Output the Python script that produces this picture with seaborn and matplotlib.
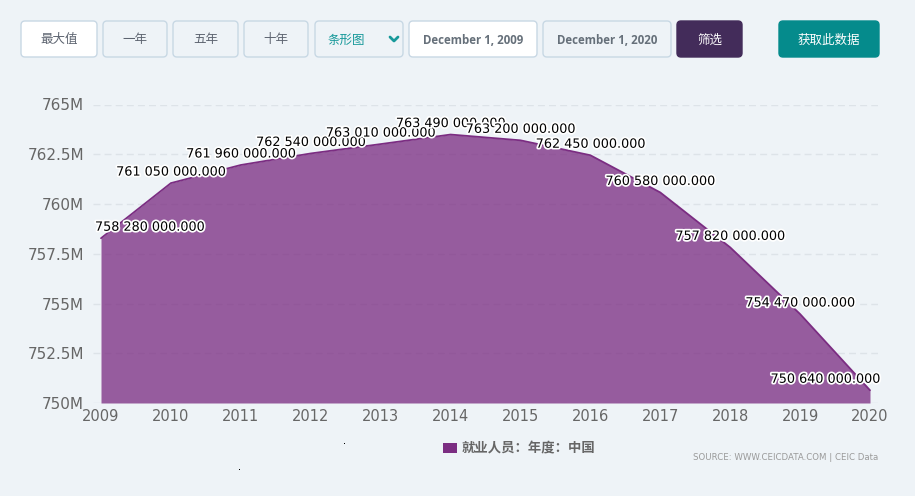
import matplotlib
matplotlib.use("Agg")
import matplotlib.pyplot as plt
import matplotlib.patheffects as pe
from matplotlib.patches import FancyBboxPatch, Rectangle
from matplotlib.ticker import FuncFormatter
import pandas as pd
import seaborn as sns

# 就业人员：年度：中国 (persons)
years = [2009, 2010, 2011, 2012, 2013, 2014, 2015, 2016, 2017, 2018, 2019, 2020]
employed = [758280000, 761050000, 761960000, 762540000, 763010000, 763490000,
            763200000, 762450000, 760580000, 757820000, 754470000, 750640000]
y_ticks = [750e6, 752.5e6, 755e6, 757.5e6, 760e6, 762.5e6, 765e6]
series_name = "就业人员：年度：中国"
buttons = ["最大值", "一年", "五年", "十年"]
chart_type = "条形图"
date_from = "December 1, 2009"
date_to = "December 1, 2020"
filter_label = "筛选"
get_data_label = "获取此数据"
source_text = "SOURCE: WWW.CEICDATA.COM | CEIC Data"

df = pd.DataFrame({"year": years, "value": employed})

BG = "#eef3f7"
PURPLE = "#7b2d82"
GREY = "#666666"

sns.set_theme(style="white")
plt.rcParams["font.family"] = ["DejaVu Sans", "Noto Sans CJK SC"]

W, H = 915, 496
fig = plt.figure(figsize=(W / 100, H / 100), dpi=100, facecolor=BG)

# main plot area (pixel box -> figure fraction)
left, right, top, bottom = 93, 878, 104.5, 403
ax = fig.add_axes([left / W, 1 - bottom / H, (right - left) / W, (bottom - top) / H])
ax.set_facecolor(BG)

px_per_year = (870 - 101) / 11
ax.set_xlim(2009 - (101 - left) / px_per_year, 2020 + (right - 870) / px_per_year)
ax.set_ylim(750e6, 765e6)

for yt in y_ticks:
    ax.axhline(yt, color="#dde3e8", lw=1, ls=(0, (5, 3)), zorder=0)

ax.fill_between(df["year"], df["value"], 750e6, color=PURPLE, alpha=0.76,
                lw=0, zorder=1)
sns.lineplot(data=df, x="year", y="value", ax=ax, color=PURPLE, lw=1.3,
             zorder=2, legend=False)

for i, (yr, v) in enumerate(zip(df["year"], df["value"])):
    txt = f"{v:,.3f}".replace(",", " ")
    if i == 0:
        ha, dx = "left", -6
    elif i == len(df) - 1:
        ha, dx = "right", 10
    else:
        ha, dx = "center", 0
    ax.annotate(txt, (yr, v), xytext=(dx, 11), textcoords="offset pixels",
                ha=ha, va="center", fontsize=9.2, color="black", zorder=5,
                path_effects=[pe.withStroke(linewidth=2.5, foreground="white")])

ax.set_xticks(years)
ax.set_yticks(y_ticks)
ax.yaxis.set_major_formatter(FuncFormatter(lambda v, p: f"{v / 1e6:g}M"))
ax.tick_params(axis="x", length=0, pad=4, labelsize=10.5, labelcolor=GREY)
ax.tick_params(axis="y", length=0, pad=6.5, labelsize=11, labelcolor=GREY)
ax.set_xlabel("")
ax.set_ylabel("")
for s in ax.spines.values():
    s.set_visible(False)

# overlay in pixel coordinates for the toolbar, legend and source
ov = fig.add_axes([0, 0, 1, 1], facecolor="none")
ov.set_xlim(0, W)
ov.set_ylim(H, 0)
ov.axis("off")

cjk = ["Noto Sans CJK SC", "DejaVu Sans"]


def button(x0, x1, face, edge, label, color, family=cjk, size=9, weight="normal"):
    ov.add_patch(FancyBboxPatch((x0, 21), x1 - x0, 36,
                                boxstyle="round,pad=0,rounding_size=4",
                                fc=face, ec=edge, lw=1))
    ov.text((x0 + x1) / 2, 40, label, ha="center", va="center", fontsize=size,
            color=color, family=family, weight=weight)


btn_x = [(21, 97), (103, 167), (173, 238), (244, 308)]
for (x0, x1), lab in zip(btn_x, buttons):
    button(x0, x1, "white" if lab == buttons[0] else BG, "#c8d8e4", lab, "#5d6470")

ov.add_patch(FancyBboxPatch((315, 21), 88, 36, boxstyle="round,pad=0,rounding_size=4",
                            fc=BG, ec="#c8d8e4", lw=1))
ov.text(328, 40, chart_type, ha="left", va="center", fontsize=9, color="#17999a",
        family=cjk)
ov.plot([390, 394, 398], [37, 41, 37], color="#17999a", lw=2, solid_capstyle="round")

button(409, 537, "white", "#c8d8e4", date_from, "#66707a", family=["Open Sans"],
       size=8.3, weight="bold")
button(543, 671, BG, "#c8d8e4", date_to, "#66707a", family=["Open Sans"],
       size=8.3, weight="bold")
button(677, 742, "#432c5a", "#432c5a", filter_label, "white")
button(779, 879, "#058b8c", "#058b8c", get_data_label, "white")

# legend
ov.add_patch(Rectangle((443, 443), 14, 10, fc=PURPLE, ec="none"))
ov.text(462, 448.5, series_name, ha="left", va="center", fontsize=9.6,
        color=GREY, weight="bold", family=cjk)
ov.text(878, 458, source_text, ha="right", va="center", fontsize=6.2, color="#9a9a9a")

# stray dots in the reference
ov.add_patch(Rectangle((343.5, 442.5), 1.5, 1.5, fc="black", ec="none"))
ov.add_patch(Rectangle((238.5, 468.5), 1.5, 1.5, fc="black", ec="none"))

fig.savefig("out.png", dpi=100, facecolor=BG)
